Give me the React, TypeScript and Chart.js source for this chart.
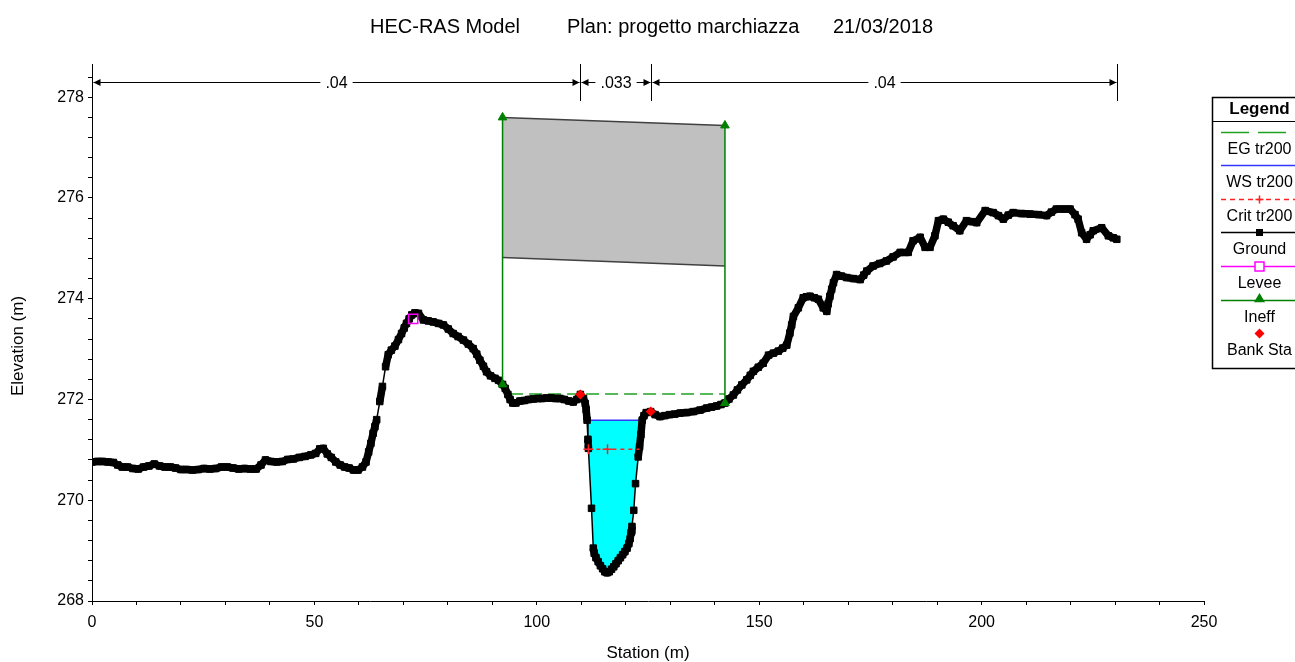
import React, { useEffect, useRef } from 'react';
import { Chart, registerables } from 'chart.js';

Chart.register(...registerables);

const titleParts = ['HEC-RAS Model', 'Plan: progetto marchiazza', '21/03/2018'];
const xAxisTitle = 'Station (m)';
const yAxisTitle = 'Elevation (m)';
const legendTitle = 'Legend';
const legendLabels = ['EG tr200', 'WS tr200', 'Crit tr200', 'Ground', 'Levee', 'Ineff', 'Bank Sta'];

const groundStation = [
  0.0, 1.2, 2.4, 3.6, 4.8, 5.8, 6.8, 8.0, 9.2, 10.4,
  11.6, 12.8, 14.0, 15.2, 16.4, 17.6, 18.8, 20.0, 21.3, 22.6,
  23.9, 25.2, 26.5, 27.8, 29.1, 30.4, 31.7, 33.0, 34.3, 35.6,
  36.9, 38.0, 39.0, 40.2, 41.5, 42.8, 44.0, 45.3, 46.6, 47.9,
  49.2, 50.3, 51.2, 52.0, 52.9, 53.8, 54.8, 55.8, 56.8, 57.8,
  58.8, 59.8, 60.8, 61.6, 62.2, 62.7, 63.2, 63.6, 64.0, 64.7,
  65.3, 66.0, 66.6, 67.3, 68.1, 68.9, 69.6, 70.2, 70.7, 71.3,
  71.9, 72.6, 73.4, 74.5, 75.6, 76.7, 77.9, 79.0, 80.1, 81.2,
  82.3, 83.5, 84.6, 85.7, 86.5, 87.2, 88.0, 88.7, 89.6, 90.6,
  91.4, 92.3, 92.9, 93.5, 94.0, 94.6, 95.3, 96.2, 97.2, 98.2,
  99.2, 100.2, 101.2, 102.2, 103.2, 104.2, 105.2, 106.2, 107.2, 108.2,
  109.0, 109.8, 110.5, 110.9, 111.1, 111.3, 111.5, 111.6, 112.3, 112.7,
  112.9, 113.3, 113.8, 114.3, 114.8, 115.3, 115.8, 116.3, 116.8, 117.3,
  117.8, 118.3, 118.8, 119.3, 119.8, 120.3, 120.7, 121.0, 121.2, 121.4,
  121.8, 122.2, 122.8, 123.1, 123.4, 123.7, 124.1, 124.6, 125.6, 126.6,
  127.7, 128.8, 129.9, 131.0, 132.2, 133.7, 135.2, 136.7, 138.2, 139.3,
  140.4, 141.4, 142.3, 143.2, 144.2, 145.1, 146.1, 147.2, 148.0, 148.7,
  149.8, 150.9, 152.1, 153.2, 154.3, 155.3, 156.2, 156.9, 157.3, 157.7,
  158.8, 159.9, 160.6, 161.4, 162.4, 163.3, 164.4, 165.2, 165.5, 165.9,
  166.3, 166.7, 167.4, 168.5, 169.7, 171.2, 172.7, 173.5, 174.2, 175.6,
  177.1, 178.6, 180.1, 181.7, 183.5, 184.6, 186.2, 187.3, 188.4, 189.5,
  190.3, 191.4, 192.5, 193.6, 195.1, 196.6, 197.8, 198.9, 200.8, 202.6,
  203.8, 204.9, 206.0, 207.1, 209.0, 210.9, 212.8, 214.6, 215.7, 216.8,
  218.4, 219.9, 221.0, 221.7, 222.5, 223.6, 224.4, 225.1, 227.0, 228.5,
  229.6, 230.4,
];
const groundElevation = [
  270.76, 270.77, 270.77, 270.76, 270.75, 270.70, 270.66, 270.66, 270.63, 270.62,
  270.66, 270.68, 270.72, 270.68, 270.66, 270.66, 270.64, 270.61, 270.61, 270.60,
  270.61, 270.63, 270.62, 270.63, 270.66, 270.66, 270.64, 270.62, 270.63, 270.62,
  270.62, 270.70, 270.80, 270.77, 270.76, 270.77, 270.81, 270.82, 270.85, 270.87,
  270.90, 270.93, 271.02, 271.03, 270.92, 270.85, 270.76, 270.70, 270.66, 270.64,
  270.60, 270.60, 270.66, 270.76, 270.96, 271.13, 271.33, 271.46, 271.60, 271.96,
  272.26, 272.65, 272.89, 272.98, 273.06, 273.19, 273.31, 273.42, 273.51, 273.60,
  273.68, 273.72, 273.71, 273.58, 273.56, 273.54, 273.51, 273.48, 273.40, 273.31,
  273.25, 273.18, 273.10, 273.01, 272.90, 272.78, 272.66, 272.55, 272.47, 272.42,
  272.38, 272.30, 272.22, 272.10, 272.00, 271.93, 271.93, 271.97, 271.98, 272.00,
  272.01, 272.02, 272.02, 272.03, 272.03, 272.02, 272.02, 272.00, 271.97, 271.95,
  272.00, 272.10, 272.02, 271.92, 271.80, 271.59, 271.21, 271.03, 269.84, 269.05,
  268.95, 268.86, 268.78, 268.70, 268.64, 268.58, 268.56, 268.58, 268.63, 268.68,
  268.74, 268.80, 268.86, 268.92, 268.98, 269.05, 269.14, 269.24, 269.36, 269.48,
  269.80, 270.33, 270.86, 271.06, 271.30, 271.59, 271.68, 271.74, 271.76, 271.70,
  271.66, 271.68, 271.70, 271.71, 271.73, 271.74, 271.76, 271.79, 271.83, 271.85,
  271.87, 271.90, 271.93, 272.01, 272.09, 272.19, 272.29, 272.39, 272.48, 272.56,
  272.64, 272.72, 272.88, 272.92, 272.96, 273.02, 273.08, 273.32, 273.48, 273.65,
  273.82, 274.02, 274.04, 274.05, 274.02, 273.99, 273.82, 273.75, 273.90, 274.05,
  274.19, 274.32, 274.48, 274.45, 274.42, 274.40, 274.38, 274.47, 274.55, 274.65,
  274.70, 274.75, 274.83, 274.92, 274.92, 275.15, 275.22, 275.02, 275.02, 275.25,
  275.55, 275.58, 275.52, 275.45, 275.35, 275.55, 275.53, 275.51, 275.75, 275.71,
  275.65, 275.58, 275.66, 275.71, 275.69, 275.68, 275.67, 275.65, 275.72, 275.78,
  275.78, 275.78, 275.67, 275.58, 275.31, 275.18, 275.27, 275.35, 275.41, 275.25,
  275.21, 275.18,
];

const leveeStation = [72.2];
const leveeElevation = [273.60];
const bankStation = [109.8, 125.6];
const bankElevation = [272.10, 271.76];
const ineffStation = [92.3, 142.3];
const ineffLowElevation = [272.30, 271.93];
const ineffHighElevation = [277.60, 277.44];
const deckStation = [92.3, 142.3];
const deckTopElevation = [277.60, 277.44];
const deckLowElevation = [274.82, 274.65];
const egStation = [94.0, 142.3];
const egElevation = [272.11, 272.11];
const wsStation = [111.3, 123.7];
const wsElevation = [271.59, 271.59];
const critStation = [111.6, 115.9, 123.1];
const critElevation = [271.01, 271.01, 271.01];
const nBreakStation = [0, 109.8, 125.6, 230.4];
const nValueLabels = ['.04', '.033', '.04'];

const FONT = "'Liberation Sans', Arial, sans-serif";
const COLORS = {
  eg: '#22a022',
  ws: '#3434ff',
  crit: '#ff2020',
  ground: '#000000',
  levee: '#ff00ff',
  ineff: '#008000',
  bank: '#ff0000',
  water: '#00ffff',
  deck: '#c0c0c0',
  deckEdge: '#404040',
};

const pts = (xs: number[], ys: number[]) => xs.map((x, i) => ({ x, y: ys[i] }));

function drawTriangle(ctx: CanvasRenderingContext2D, x: number, y: number, r: number) {
  ctx.beginPath();
  ctx.moveTo(x, y - r);
  ctx.lineTo(x + r, y + r * 0.7);
  ctx.lineTo(x - r, y + r * 0.7);
  ctx.closePath();
  ctx.fill();
}

const overlayPlugin = {
  id: 'hecOverlay',
  afterDraw(chart: any) {
    const ctx: CanvasRenderingContext2D = chart.ctx;
    const xs = chart.scales.x;
    const ca = chart.chartArea;
    ctx.save();

    // Title
    ctx.fillStyle = '#000';
    ctx.font = `20px ${FONT}`;
    ctx.textBaseline = 'middle';
    ctx.textAlign = 'left';
    const titleX = [370, 567, 833];
    titleParts.forEach((t, i) => ctx.fillText(t, titleX[i], 27));

    // Axis titles
    ctx.font = `17px ${FONT}`;
    ctx.textAlign = 'center';
    ctx.fillText(xAxisTitle, (ca.left + ca.right) / 2, 653);
    ctx.save();
    ctx.translate(18, 346);
    ctx.rotate(-Math.PI / 2);
    ctx.fillText(yAxisTitle, 0, 0);
    ctx.restore();

    // Manning's n annotation
    const yLine = 82.5;
    ctx.strokeStyle = '#000';
    ctx.fillStyle = '#000';
    ctx.lineWidth = 1;
    const bx = nBreakStation.map((s) => Math.round(xs.getPixelForValue(s)) + 0.5);
    bx.forEach((px) => {
      ctx.beginPath();
      ctx.moveTo(px, 64);
      ctx.lineTo(px, 101);
      ctx.stroke();
    });
    ctx.font = `16px ${FONT}`;
    for (let i = 0; i < nValueLabels.length; i++) {
      const x0 = bx[i];
      const x1 = bx[i + 1];
      const mid = (x0 + x1) / 2;
      const w = ctx.measureText(nValueLabels[i]).width;
      ctx.beginPath();
      ctx.moveTo(x0 + 1, yLine);
      ctx.lineTo(mid - w / 2 - 5, yLine);
      ctx.moveTo(mid + w / 2 + 5, yLine);
      ctx.lineTo(x1 - 1, yLine);
      ctx.stroke();
      ctx.beginPath();
      ctx.moveTo(x0 + 1, yLine);
      ctx.lineTo(x0 + 8, yLine - 3.5);
      ctx.lineTo(x0 + 8, yLine + 3.5);
      ctx.closePath();
      ctx.fill();
      ctx.beginPath();
      ctx.moveTo(x1 - 1, yLine);
      ctx.lineTo(x1 - 8, yLine - 3.5);
      ctx.lineTo(x1 - 8, yLine + 3.5);
      ctx.closePath();
      ctx.fill();
      ctx.fillText(nValueLabels[i], mid, yLine + 1);
    }

    // Legend
    const left = 1212.5;
    const top = 97.5;
    const right = 1312;
    const bottom = 368.5;
    const cx = 1259.5;
    ctx.fillStyle = '#fff';
    ctx.fillRect(left, top, right - left, bottom - top);
    ctx.strokeStyle = '#000';
    ctx.lineWidth = 1.5;
    ctx.strokeRect(left, top, right - left, bottom - top);
    ctx.lineWidth = 1;
    ctx.beginPath();
    ctx.moveTo(left, 121.5);
    ctx.lineTo(right, 121.5);
    ctx.stroke();
    ctx.fillStyle = '#000';
    ctx.font = `bold 17px ${FONT}`;
    ctx.textAlign = 'center';
    ctx.fillText(legendTitle, cx, 109);
    ctx.font = `16px ${FONT}`;
    const lx0 = 1221;
    const lx1 = 1300;
    legendLabels.forEach((label, i) => {
      const ly = Math.round(131.5 + i * 33.6) + 0.5;
      const ty = ly + 16.8;
      ctx.save();
      ctx.lineWidth = 1.5;
      const line = (color: string, dash: number[]) => {
        ctx.strokeStyle = color;
        ctx.setLineDash(dash);
        ctx.beginPath();
        ctx.moveTo(lx0, ly);
        ctx.lineTo(lx1, ly);
        ctx.stroke();
        ctx.setLineDash([]);
      };
      if (i === 0) line(COLORS.eg, [28, 9]);
      if (i === 1) line(COLORS.ws, []);
      if (i === 2) {
        line(COLORS.crit, [5, 4]);
        ctx.strokeStyle = COLORS.crit;
        ctx.beginPath();
        ctx.moveTo(cx - 4, ly);
        ctx.lineTo(cx + 4, ly);
        ctx.moveTo(cx, ly - 4);
        ctx.lineTo(cx, ly + 4);
        ctx.stroke();
      }
      if (i === 3) {
        line(COLORS.ground, []);
        ctx.fillStyle = '#000';
        ctx.fillRect(cx - 3.5, ly - 3.5, 7, 7);
      }
      if (i === 4) {
        line(COLORS.levee, []);
        ctx.fillStyle = '#fff';
        ctx.fillRect(cx - 4.5, ly - 4.5, 9, 9);
        ctx.strokeStyle = COLORS.levee;
        ctx.strokeRect(cx - 4.5, ly - 4.5, 9, 9);
      }
      if (i === 5) {
        line(COLORS.ineff, []);
        ctx.fillStyle = COLORS.ineff;
        drawTriangle(ctx, cx, ly - 2, 5.5);
      }
      if (i === 6) {
        ctx.fillStyle = COLORS.bank;
        ctx.beginPath();
        ctx.moveTo(cx, ly - 5);
        ctx.lineTo(cx + 5, ly);
        ctx.lineTo(cx, ly + 5);
        ctx.lineTo(cx - 5, ly);
        ctx.closePath();
        ctx.fill();
      }
      ctx.restore();
      ctx.fillStyle = '#000';
      ctx.fillText(label, cx, ty);
    });

    ctx.restore();
  },
};

export default function App() {
  const canvasRef = useRef<HTMLCanvasElement | null>(null);

  useEffect(() => {
    const canvas = canvasRef.current;
    if (!canvas) return;

    const ground = pts(groundStation, groundElevation);
    const water = ground.filter((p) => p.x >= wsStation[0] && p.x <= wsStation[1]);
    const deckPolygon = [
      { x: deckStation[0], y: deckTopElevation[0] },
      { x: deckStation[1], y: deckTopElevation[1] },
      { x: deckStation[1], y: deckLowElevation[1] },
      { x: deckStation[0], y: deckLowElevation[0] },
    ];

    const base = { pointRadius: 0, borderWidth: 1.5, tension: 0, fill: false };

    const chart = new Chart(canvas, {
      type: 'line',
      data: {
        datasets: [
          { ...base, data: deckPolygon, fill: 'shape', backgroundColor: COLORS.deck, borderWidth: 0, borderColor: 'rgba(0,0,0,0)', order: 12 },
          { ...base, data: pts(deckStation, deckTopElevation), borderColor: COLORS.deckEdge, order: 11 },
          { ...base, data: pts(deckStation, deckLowElevation), borderColor: COLORS.deckEdge, order: 11 },
          { ...base, data: water, fill: 'shape', backgroundColor: COLORS.water, borderWidth: 0, borderColor: 'rgba(0,0,0,0)', order: 10 },
          { ...base, data: pts(egStation, egElevation), borderColor: COLORS.eg, borderDash: [13, 6], order: 8 },
          { ...base, data: pts(wsStation, wsElevation), borderColor: COLORS.ws, order: 7 },
          {
            ...base,
            data: [
              { x: ineffStation[0], y: ineffLowElevation[0] },
              { x: ineffStation[0], y: ineffHighElevation[0] },
            ],
            borderColor: COLORS.ineff,
            pointRadius: 5,
            pointStyle: 'triangle',
            pointBackgroundColor: COLORS.ineff,
            pointBorderColor: COLORS.ineff,
            pointBorderWidth: 1,
            order: 4,
          },
          {
            ...base,
            data: [
              { x: ineffStation[1], y: ineffLowElevation[1] },
              { x: ineffStation[1], y: ineffHighElevation[1] },
            ],
            borderColor: COLORS.ineff,
            pointRadius: 5,
            pointStyle: 'triangle',
            pointBackgroundColor: COLORS.ineff,
            pointBorderColor: COLORS.ineff,
            pointBorderWidth: 1,
            order: 4,
          },
          {
            ...base,
            data: ground,
            borderColor: COLORS.ground,
            borderJoinStyle: 'round',
            pointRadius: 4.6,
            pointStyle: 'rect',
            pointBackgroundColor: COLORS.ground,
            pointBorderColor: COLORS.ground,
            pointBorderWidth: 1,
            segment: {
              borderWidth: (c: any) => (Math.hypot(c.p1.x - c.p0.x, c.p1.y - c.p0.y) < 16 ? 7.5 : 1.5),
            },
            order: 5,
          },
          {
            ...base,
            data: pts(critStation, critElevation),
            borderColor: COLORS.crit,
            borderDash: [4, 4],
            pointStyle: 'cross',
            pointRadius: [5, 5, 0],
            pointBorderColor: COLORS.crit,
            pointBorderWidth: 1.5,
            order: 2,
          },
          {
            ...base,
            data: pts(bankStation, bankElevation),
            showLine: false,
            pointStyle: 'rectRot',
            pointRadius: 5,
            pointBackgroundColor: COLORS.bank,
            pointBorderColor: COLORS.bank,
            pointBorderWidth: 0,
            order: 1,
          },
          {
            ...base,
            data: pts(leveeStation, leveeElevation),
            showLine: false,
            pointStyle: 'rect',
            pointRadius: 6.5,
            pointBackgroundColor: 'rgba(0,0,0,0)',
            pointBorderColor: COLORS.levee,
            pointBorderWidth: 1.5,
            order: 0,
          },
        ] as any,
      },
      options: {
        animation: false,
        responsive: true,
        maintainAspectRatio: false,
        devicePixelRatio: 1,
        events: [],
        layout: { padding: { top: 64, right: 91, left: 0, bottom: 0 } },
        plugins: {
          legend: { display: false },
          tooltip: { enabled: false },
          title: { display: false },
        },
        scales: {
          x: {
            type: 'linear',
            min: 0,
            max: 250,
            afterFit: (s: any) => {
              s.height = 61;
            },
            grid: { drawOnChartArea: false, drawTicks: true, tickLength: 4, color: '#000' },
            border: { display: true, color: '#000', width: 1 },
            ticks: {
              stepSize: 10,
              autoSkip: false,
              maxRotation: 0,
              padding: 8,
              color: '#000',
              font: { family: FONT, size: 16 },
              callback: (v: any) => (Math.abs(v % 50) < 1e-6 ? String(v) : ''),
            },
          },
          y: {
            type: 'linear',
            min: 268,
            max: 278.66,
            afterFit: (s: any) => {
              s.width = 92;
            },
            grid: { drawOnChartArea: false, drawTicks: true, tickLength: 4, color: '#000' },
            border: { display: true, color: '#000', width: 1 },
            ticks: {
              stepSize: 0.4,
              includeBounds: false,
              autoSkip: false,
              padding: 4,
              color: '#000',
              font: { family: FONT, size: 16 },
              callback: (v: any) => {
                const n = Number(v);
                return Math.abs(n / 2 - Math.round(n / 2)) < 1e-6 ? String(Math.round(n)) : '';
              },
            },
          },
        },
      } as any,
      plugins: [overlayPlugin],
    });

    return () => chart.destroy();
  }, []);

  return (
    <div style={{ position: 'absolute', left: 0, top: 0, width: 1295, height: 662, background: '#fff' }}>
      <canvas ref={canvasRef} />
    </div>
  );
}
